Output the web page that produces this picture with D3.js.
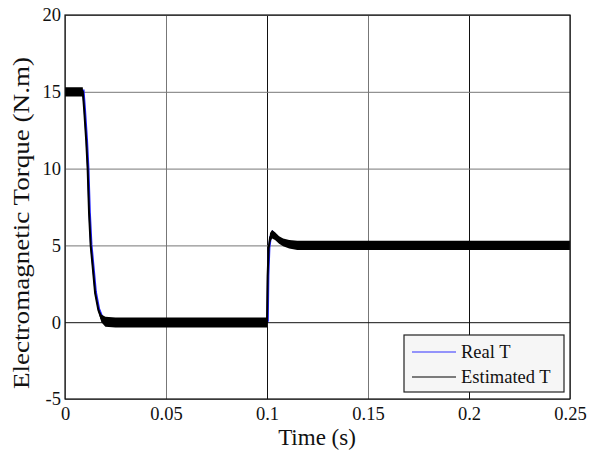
<!DOCTYPE html>
<html>
<head>
<meta charset="utf-8">
<script src="https://cdn.jsdelivr.net/npm/d3@7"></script>
<style>
  body { margin: 0; background: #fff; }
  svg { display: block; }
  .grid line { stroke: #777; stroke-width: 1; }
  .grid .domain { display: none; }
  .axis .domain { display: none; }
</style>
</head>
<body>
<svg id="chart" width="597" height="455"></svg>
<script>
const FONT = "Liberation Serif"

// time axis (s)
const time = [0, 0.0088, 0.0095, 0.0105, 0.0112, 0.0119, 0.0127, 0.0137, 0.0149, 0.0165, 0.018, 0.02, 0.025,
  0.1, 0.1003, 0.1008, 0.1015, 0.1025, 0.104, 0.106, 0.108, 0.111, 0.115, 0.25]
// real torque (N.m)
const realT = [15, 15, 13.8, 11.8, 10, 7.1, 5, 3.6, 1.9, 0.8, 0.3, 0.1, 0.05,
  0.05, 3, 4.8, 5.5, 5.8, 5.6, 5.35, 5.2, 5.08, 5.0, 5.0]
// estimated torque: centre, upper and lower edge of the ripple band
const estT = [15, 15, 13.8, 11.8, 10, 7.1, 5, 3.6, 1.9, 0.8, 0.25, 0.02, 0,
  0, 3, 4.8, 5.5, 5.75, 5.6, 5.35, 5.2, 5.08, 5.0, 5.0]
const estHi = [15.3, 15.3, 13.8, 11.8, 10, 7.1, 5, 3.6, 1.9, 0.9, 0.5, 0.35, 0.3,
  0.3, 3, 4.9, 5.8, 6.0, 5.85, 5.6, 5.45, 5.35, 5.3, 5.3]
const estLo = [14.7, 14.7, 13.8, 11.8, 10, 7.1, 5, 3.6, 1.9, 0.7, 0.0, -0.3, -0.35,
  -0.35, 3, 4.7, 5.2, 5.45, 5.35, 5.1, 4.95, 4.8, 4.7, 4.7]

const xTicks = [0, 0.05, 0.1, 0.15, 0.2, 0.25]
const yTicks = [-5, 0, 5, 10, 15, 20]
const legendLabels = ["Real T", "Estimated T"]

const margin = { top: 15, right: 27, bottom: 56, left: 65 }
const svg = d3.select("#chart")
const width = 597, height = 455
const innerW = width - margin.left - margin.right
const innerH = height - margin.top - margin.bottom

const x = d3.scaleLinear().domain([0, 0.25]).range([margin.left, margin.left + innerW])
const y = d3.scaleLinear().domain([-5, 20]).range([margin.top + innerH, margin.top])

// grid
const darkX = [0.1, 0.2]
svg.append("g")
  .attr("class", "grid")
  .attr("transform", `translate(0,${margin.top + innerH})`)
  .call(d3.axisBottom(x).tickValues(xTicks).tickSize(-innerH).tickFormat(""))
  .selectAll("line")
  .style("stroke", (d) => darkX.includes(d) ? "#111" : "#777")

svg.append("g")
  .attr("class", "grid")
  .attr("transform", `translate(${margin.left},0)`)
  .call(d3.axisLeft(y).tickValues(yTicks).tickSize(-innerW).tickFormat(""))
  .selectAll("line")
  .style("stroke", (d) => d === 0 ? "#111" : "#777")

// data
const pts = time.map((t, i) => ({ t: t, real: realT[i], est: estT[i], hi: estHi[i], lo: estLo[i] }))

svg.append("clipPath").attr("id", "clip")
  .append("rect")
  .attr("x", margin.left).attr("y", margin.top)
  .attr("width", innerW).attr("height", innerH)

const g = svg.append("g").attr("clip-path", "url(#clip)")

g.append("path")
  .datum(pts)
  .attr("fill", "none")
  .attr("stroke", "#2020ff")
  .attr("stroke-width", 2.4)
  .attr("transform", "translate(0.6,-1)")
  .attr("d", d3.line().x((d) => x(d.t)).y((d) => y(d.real)))

g.append("path")
  .datum(pts)
  .attr("fill", "#000")
  .attr("d", d3.area().x((d) => x(d.t)).y0((d) => y(d.lo)).y1((d) => y(d.hi)))

g.append("path")
  .datum(pts)
  .attr("fill", "none")
  .attr("stroke", "#000")
  .attr("stroke-width", 2)
  .attr("d", d3.line().x((d) => x(d.t)).y((d) => y(d.est)))

// frame
svg.append("rect")
  .attr("x", margin.left).attr("y", margin.top)
  .attr("width", innerW).attr("height", innerH)
  .attr("fill", "none")
  .attr("stroke", "#111")
  .attr("stroke-width", 1.2)

// axes
const xAxis = svg.append("g")
  .attr("class", "axis")
  .attr("transform", `translate(0,${margin.top + innerH})`)
  .call(d3.axisBottom(x).tickValues(xTicks).tickSize(0).tickPadding(6).tickFormat((d) => String(d)))
xAxis.attr("font-family", FONT).attr("font-size", 18.5)
xAxis.selectAll("text").attr("dy", "0.8em").attr("fill", "#111")

const yAxis = svg.append("g")
  .attr("class", "axis")
  .attr("transform", `translate(${margin.left},0)`)
  .call(d3.axisLeft(y).tickValues(yTicks).tickSize(0).tickPadding(4).tickFormat((d) => String(d)))
yAxis.attr("font-family", FONT).attr("font-size", 18.5)
yAxis.selectAll("text").attr("fill", "#111")

// labels
svg.append("text")
  .attr("x", 317)
  .attr("y", 445)
  .attr("text-anchor", "middle")
  .attr("font-family", FONT)
  .attr("font-size", 23)
  .attr("fill", "#111")
  .text("Time (s)")

svg.append("text")
  .attr("transform", "translate(29,223) rotate(-90)")
  .attr("text-anchor", "middle")
  .attr("font-family", FONT)
  .attr("font-size", 23)
  .attr("fill", "#111")
  .attr("textLength", 332)
  .attr("lengthAdjust", "spacingAndGlyphs")
  .text("Electromagnetic Torque (N.m)")

// legend
const legend = svg.append("g").attr("transform", "translate(404,335)")
legend.append("rect")
  .attr("width", 160).attr("height", 57)
  .attr("fill", "#f6f6f6")
  .attr("stroke", "#222")
  .attr("stroke-width", 1.2)

const legendColors = ["#3030ff", "#000"]
const items = legend.selectAll(".legend_item")
  .data(legendLabels)
  .enter()
  .append("g")
  .attr("class", "legend_item")
  .attr("transform", (d, i) => `translate(0,${17 + i * 25})`)

items.append("line")
  .attr("x1", 8).attr("x2", 52)
  .attr("stroke", (d, i) => legendColors[i])
  .attr("stroke-width", 1)

items.append("text")
  .attr("x", 57)
  .attr("y", 6)
  .attr("font-family", FONT)
  .attr("font-size", 18.5)
  .attr("fill", "#111")
  .text((d) => d)
</script>
</body>
</html>
